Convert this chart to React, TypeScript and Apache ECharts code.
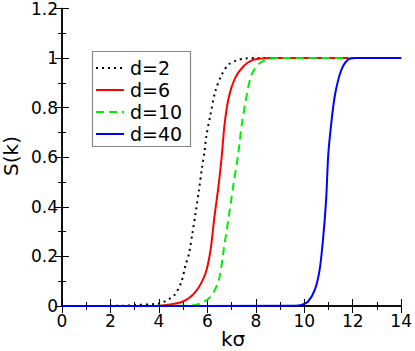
import React, { useEffect, useRef } from "react";
import * as echarts from "echarts";

const xTicks = [0, 2, 4, 6, 8, 10, 12, 14];

const d2X = [0, 2.5, 3.06, 3.8, 4.08, 4.42, 4.65, 4.92, 5.1, 5.24, 5.38, 5.51, 5.65, 5.78, 5.88, 5.95, 6.13, 6.33, 6.6, 6.88, 7.22, 7.56, 8, 14];
const d2S = [0, 0.001, 0.004, 0.008, 0.012, 0.028, 0.045, 0.095, 0.165, 0.211, 0.292, 0.372, 0.466, 0.559, 0.62, 0.68, 0.773, 0.867, 0.934, 0.974, 0.991, 0.998, 1, 1];

const d6X = [0, 4.0, 4.29, 4.97, 5.51, 5.92, 6.13, 6.29, 6.47, 6.6, 6.71, 6.88, 7.15, 7.49, 7.83, 8.24, 8.6, 14];
const d6S = [0, 0.001, 0.004, 0.017, 0.057, 0.131, 0.225, 0.358, 0.492, 0.61, 0.733, 0.84, 0.92, 0.967, 0.991, 0.998, 1, 1];

const d10X = [0, 5.24, 5.65, 6.13, 6.47, 6.67, 6.88, 7.08, 7.27, 7.42, 7.63, 7.83, 8.17, 8.65, 9.0, 14];
const d10S = [0, 0.001, 0.008, 0.037, 0.104, 0.225, 0.358, 0.492, 0.61, 0.733, 0.853, 0.934, 0.98, 0.998, 1, 1];

const d40X = [0, 9.6, 9.88, 10.15, 10.43, 10.63, 10.77, 10.9, 10.99, 11.11, 11.27, 11.51, 11.78, 12.1, 14];
const d40S = [0, 0.001, 0.004, 0.017, 0.064, 0.144, 0.265, 0.425, 0.61, 0.733, 0.853, 0.947, 0.991, 1, 1];

const legendNames = ["d=2", "d=6", "d=10", "d=40"];

const FONT = "DejaVu Sans, Verdana, sans-serif";

function pairs(xs: number[], ys: number[]) {
  return xs.map((x, i) => [x, ys[i]]);
}

export default function App() {
  const ref = useRef<HTMLDivElement>(null);
  useEffect(() => {
    if (!ref.current) return;
    const chart = echarts.init(ref.current, undefined, { renderer: "svg" });
    const axisCommon = {
      axisLine: { show: true, lineStyle: { color: "#000", width: 1.5 } },
      axisTick: { show: true, inside: true, length: 7, lineStyle: { color: "#000", width: 1 } },
      minorTick: { show: true, splitNumber: 2, length: 4, lineStyle: { color: "#000", width: 1 } },
      splitLine: { show: false },
      minorSplitLine: { show: false },
    };
    const styles = [
      { color: "#000", type: [2, 4] as any, width: 2 },
      { color: "#ff0000", type: "solid", width: 2 },
      { color: "#00ee00", type: [8, 5] as any, width: 2 },
      { color: "#0000ff", type: "solid", width: 2 },
    ];
    const datasets = [pairs(d2X, d2S), pairs(d6X, d6S), pairs(d10X, d10S), pairs(d40X, d40S)];
    const legendX = 92, legendY = 51, rowH = 22;
    const legendGraphics: any[] = [
      {
        type: "rect",
        shape: { x: legendX + 0.5, y: legendY + 0.5, width: 98, height: 95 },
        style: { fill: "#fff", stroke: "#888", lineWidth: 1.2 },
        z: 100,
      },
    ];
    legendNames.forEach((name, i) => {
      const cy = legendY + 17 + i * rowH;
      legendGraphics.push({
        type: "line",
        shape: { x1: legendX + 4, y1: cy, x2: legendX + 32, y2: cy },
        style: {
          stroke: styles[i].color,
          lineWidth: 2,
          lineDash: Array.isArray(styles[i].type) ? styles[i].type : null,
        },
        z: 101,
      });
      legendGraphics.push({
        type: "text",
        x: legendX + 38,
        y: cy,
        style: { text: name, fontSize: 19, fontFamily: FONT, fill: "#000", verticalAlign: "middle", align: "left" },
        z: 101,
      });
    });
    chart.setOption({
      animation: false,
      backgroundColor: "#fff",
      grid: { left: 62, right: 11, top: 7, bottom: 45 },
      xAxis: [
        {
          type: "value",
          min: 0,
          max: 14,
          interval: 2,
          position: "bottom",
          ...axisCommon,
          axisLabel: {
            show: true,
            fontSize: 17,
            fontFamily: FONT,
            color: "#000",
            margin: 6,
            customValues: xTicks,
          },
        },
        {
          type: "value",
          min: 0,
          max: 14,
          interval: 2,
          position: "top",
          ...axisCommon,
          axisLabel: { show: false },
        },
      ],
      yAxis: [
        {
          type: "value",
          min: 0,
          max: 1.2,
          interval: 0.2,
          position: "left",
          ...axisCommon,
          axisLabel: {
            show: true,
            fontSize: 17,
            fontFamily: FONT,
            color: "#000",
            margin: 4,
            formatter: (v: number) => String(Math.round(v * 10) / 10),
          },
        },
        {
          type: "value",
          min: 0,
          max: 1.2,
          interval: 0.2,
          position: "right",
          ...axisCommon,
          axisLabel: { show: false },
        },
      ],
      series: datasets.map((data, i) => ({
        type: "line",
        name: legendNames[i],
        data,
        showSymbol: false,
        symbol: "none",
        smooth: 0.3,
        lineStyle: styles[i],
        z: i === 3 ? 5 : i === 2 ? 4 : i === 1 ? 3 : 2,
        clip: true,
      })),
      graphic: [
        ...legendGraphics,
        {
          type: "text",
          x: 233,
          y: 339,
          style: { text: "kσ", fontSize: 20, fontFamily: FONT, fill: "#000", align: "center", verticalAlign: "middle" },
        },
        {
          type: "text",
          x: 11,
          y: 156,
          rotation: Math.PI / 2,
          style: { text: "S(k)", fontSize: 20, fontFamily: FONT, fill: "#000", align: "center", verticalAlign: "middle" },
        },
      ],
    });
    return () => chart.dispose();
  }, []);
  return <div ref={ref} style={{ width: 415, height: 351, position: "absolute", left: 0, top: 0 }} />;
}
